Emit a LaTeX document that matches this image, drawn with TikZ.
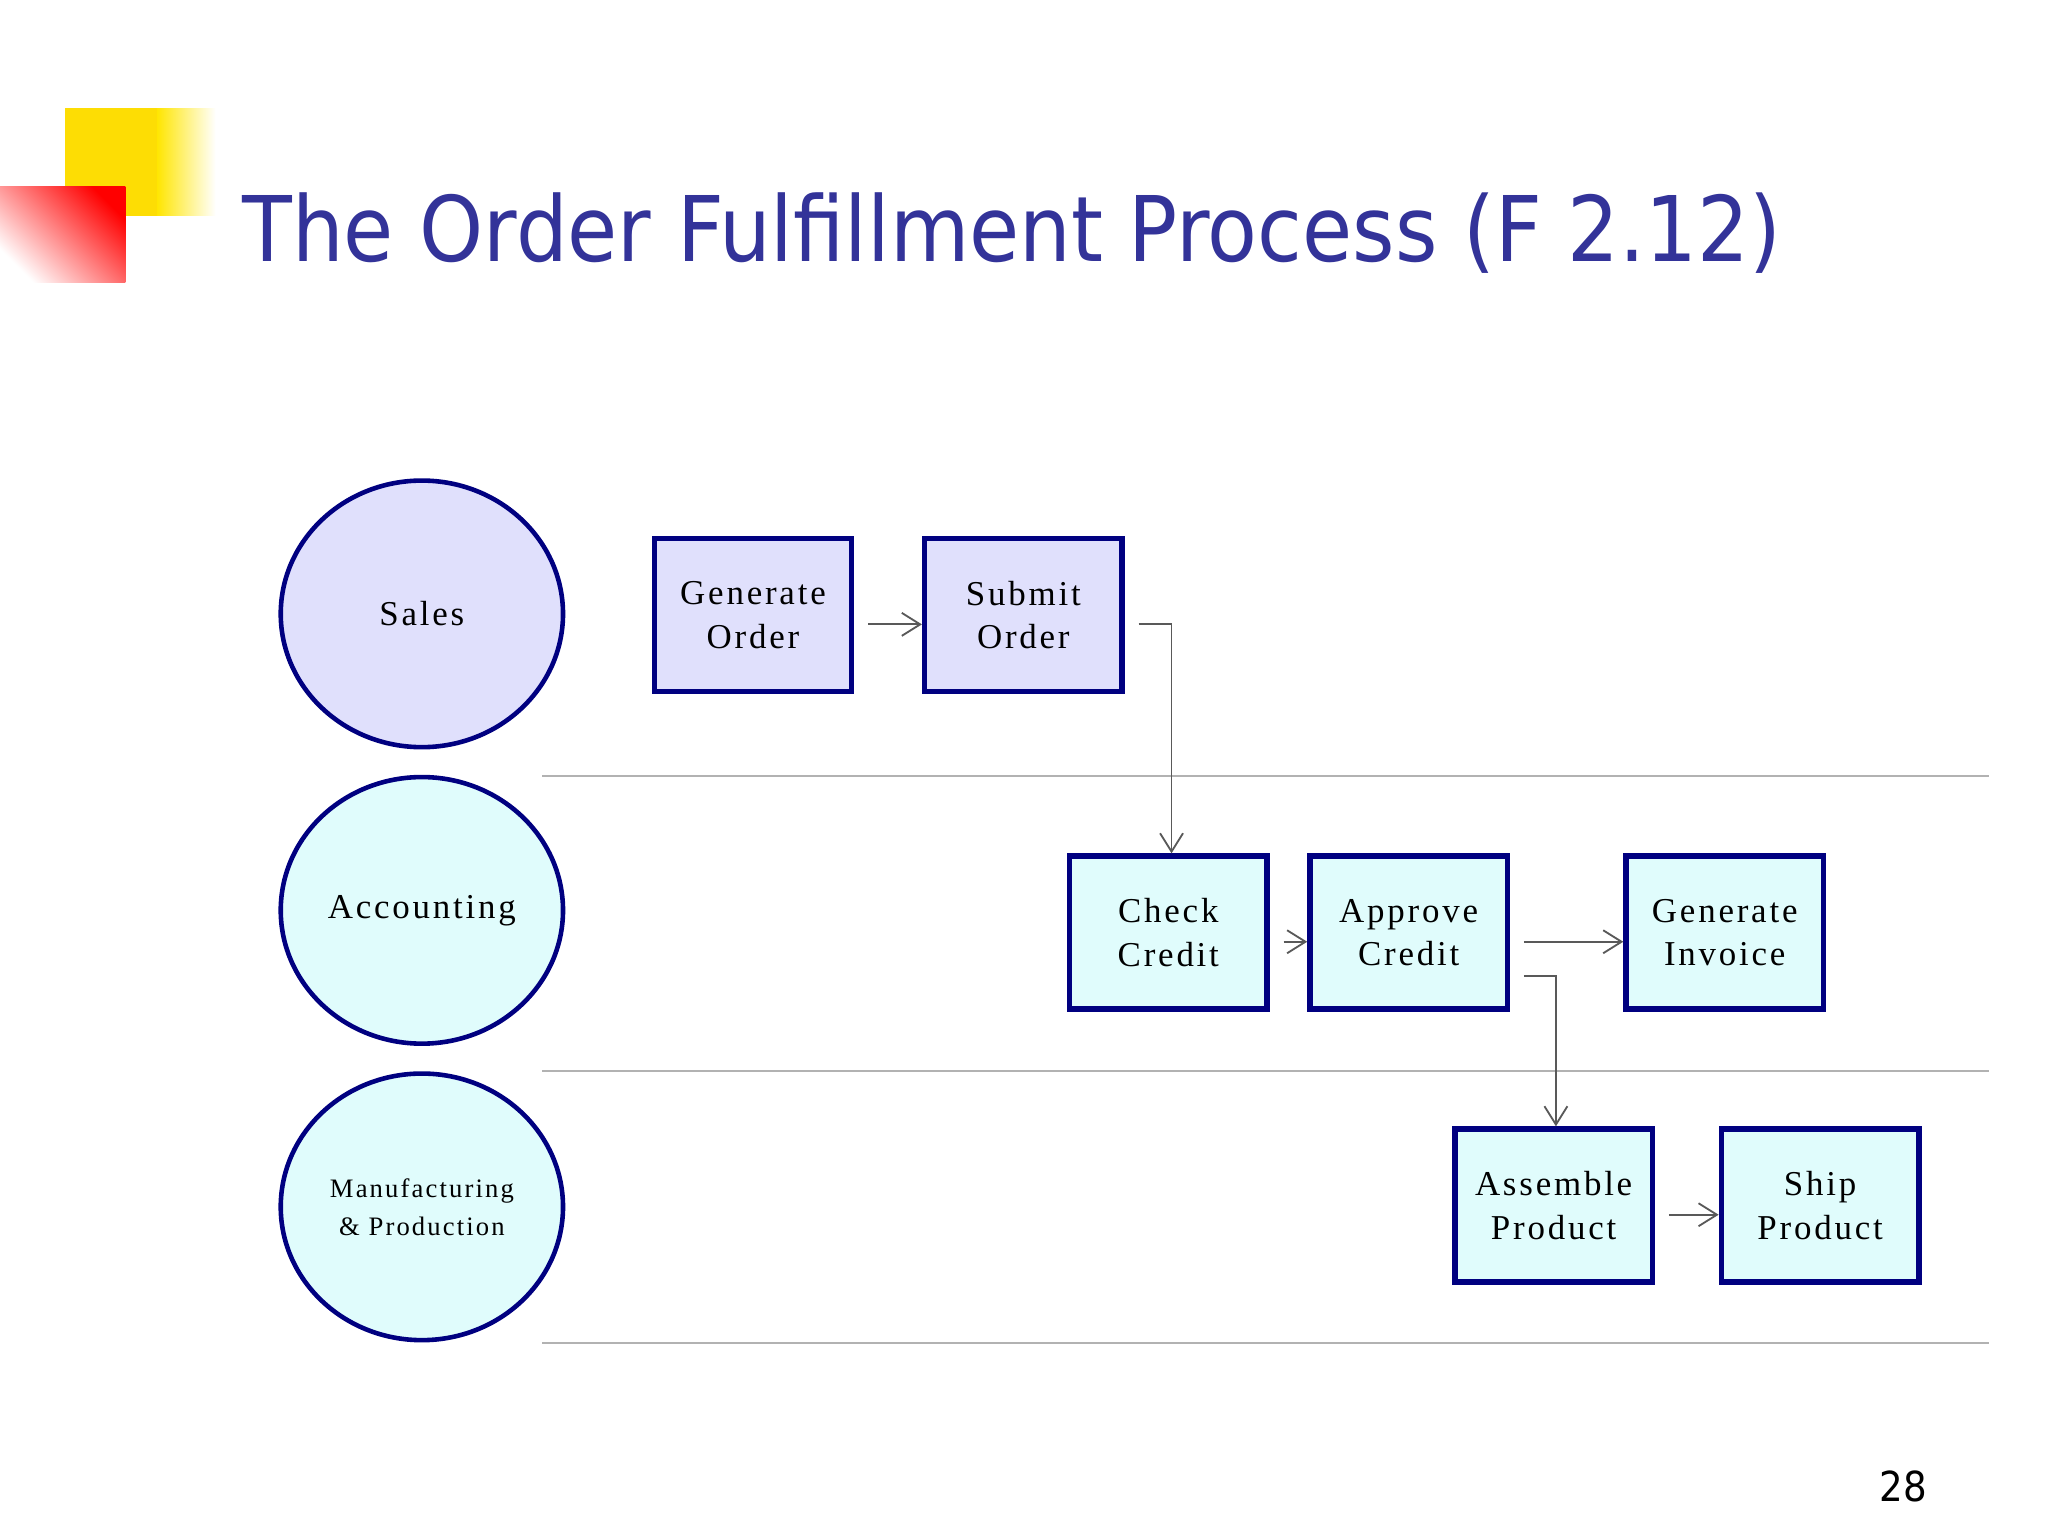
\documentclass[tikz,border=0pt]{standalone}
\usepackage{fontspec}
\setmainfont{Liberation Serif}[LetterSpace=8]
\newfontfamily\titlefont{DejaVu Sans Condensed}
\usetikzlibrary{arrows.meta,shapes.geometric}
\definecolor{ttl}{HTML}{333399}
\definecolor{navy}{HTML}{000080}
\definecolor{lav}{HTML}{E0E0FC}
\definecolor{cyanl}{HTML}{E0FCFC}
\begin{document}
\begin{tikzpicture}[x=0.01cm,y=-0.01cm,
  box/.style={draw=navy,line width=1.2pt,minimum width=1.51cm,minimum height=1.17cm,align=center,font=\fontsize{7.6pt}{9.5pt}\selectfont,inner sep=0pt},
  lane/.style={draw=navy,line width=1pt,ellipse,minimum width=2.16cm,minimum height=2.04cm,inner sep=0pt,align=center,font=\fontsize{7.6pt}{9.5pt}\selectfont},
  sep/.style={draw=gray!60,line width=0.5pt},
  conn/.style={draw=gray!70!black,line width=0.4pt,-{Straight Barb[length=4pt,width=5pt]}}]
\useasboundingbox (0,0) rectangle (1568,1176);
\fill[white] (0,0) rectangle (1568,1176);
% decoration
\shade[left color=yellow!80!orange, right color=white] (120,83) rectangle (165,165);
\fill[yellow!80!orange] (50,83) rectangle (120,165);
\shade[shading=axis,top color=red,bottom color=white,shading angle=-45] (0,143) rectangle (96,216);
\node[anchor=base west,text=ttl,inner sep=0pt] (title) at (185,200) {\resizebox{11.77cm}{!}{\titlefont The Order Fulfillment Process (F 2.12)}};
\node[anchor=center,inner sep=0pt,font=\fontsize{9pt}{10pt}\selectfont\titlefont] (pg) at (1457,1138) {28};
% lanes
\node[lane,fill=lav] (sales) at (323,470) {Sales};
\node[lane,fill=cyanl] (acc) at (323,697) {Accounting};
\node[lane,fill=cyanl,font=\fontsize{5.8pt}{8.3pt}\selectfont] (man) at (323,924) {Manufacturing\\\& Production};
\draw[sep] (415,594) -- (1523,594);
\draw[sep] (415,820) -- (1523,820);
\draw[sep] (415,1028) -- (1523,1028);
% boxes
\node[box,fill=lav] (go) at (576.5,471) {Generate\\Order};
\node[box,fill=lav] (so) at (783.5,471) {Submit\\Order};
\node[box,fill=cyanl] (cc) at (894.5,714) {Check\\Credit};
\node[box,fill=cyanl] (ac) at (1078.5,714) {Approve\\Credit};
\node[box,fill=cyanl] (gi) at (1320.5,714) {Generate\\Invoice};
\node[box,fill=cyanl] (as) at (1189.5,923) {Assemble\\Product};
\node[box,fill=cyanl] (sp) at (1393.5,923) {Ship\\Product};
% connectors
\draw[conn] ([xshift=3pt,yshift=-2pt]go.east) -- ([yshift=-2pt]so.west);
\draw[conn] ([xshift=3pt,yshift=-2pt]so.east) -| ([xshift=0.7pt]cc.north);
\draw[conn] ([xshift=3pt,yshift=-2pt]cc.east) -- ([yshift=-2pt]ac.west);
\draw[conn] ([xshift=3pt,yshift=-2pt]ac.east) -- ([yshift=-2pt]gi.west);
\draw[conn] ([xshift=3pt,yshift=-9.5pt]ac.east) -| ([xshift=0.5pt]as.north);
\draw[conn] ([xshift=3pt,yshift=-2pt]as.east) -- ([yshift=-2pt]sp.west);
\end{tikzpicture}
\end{document}
